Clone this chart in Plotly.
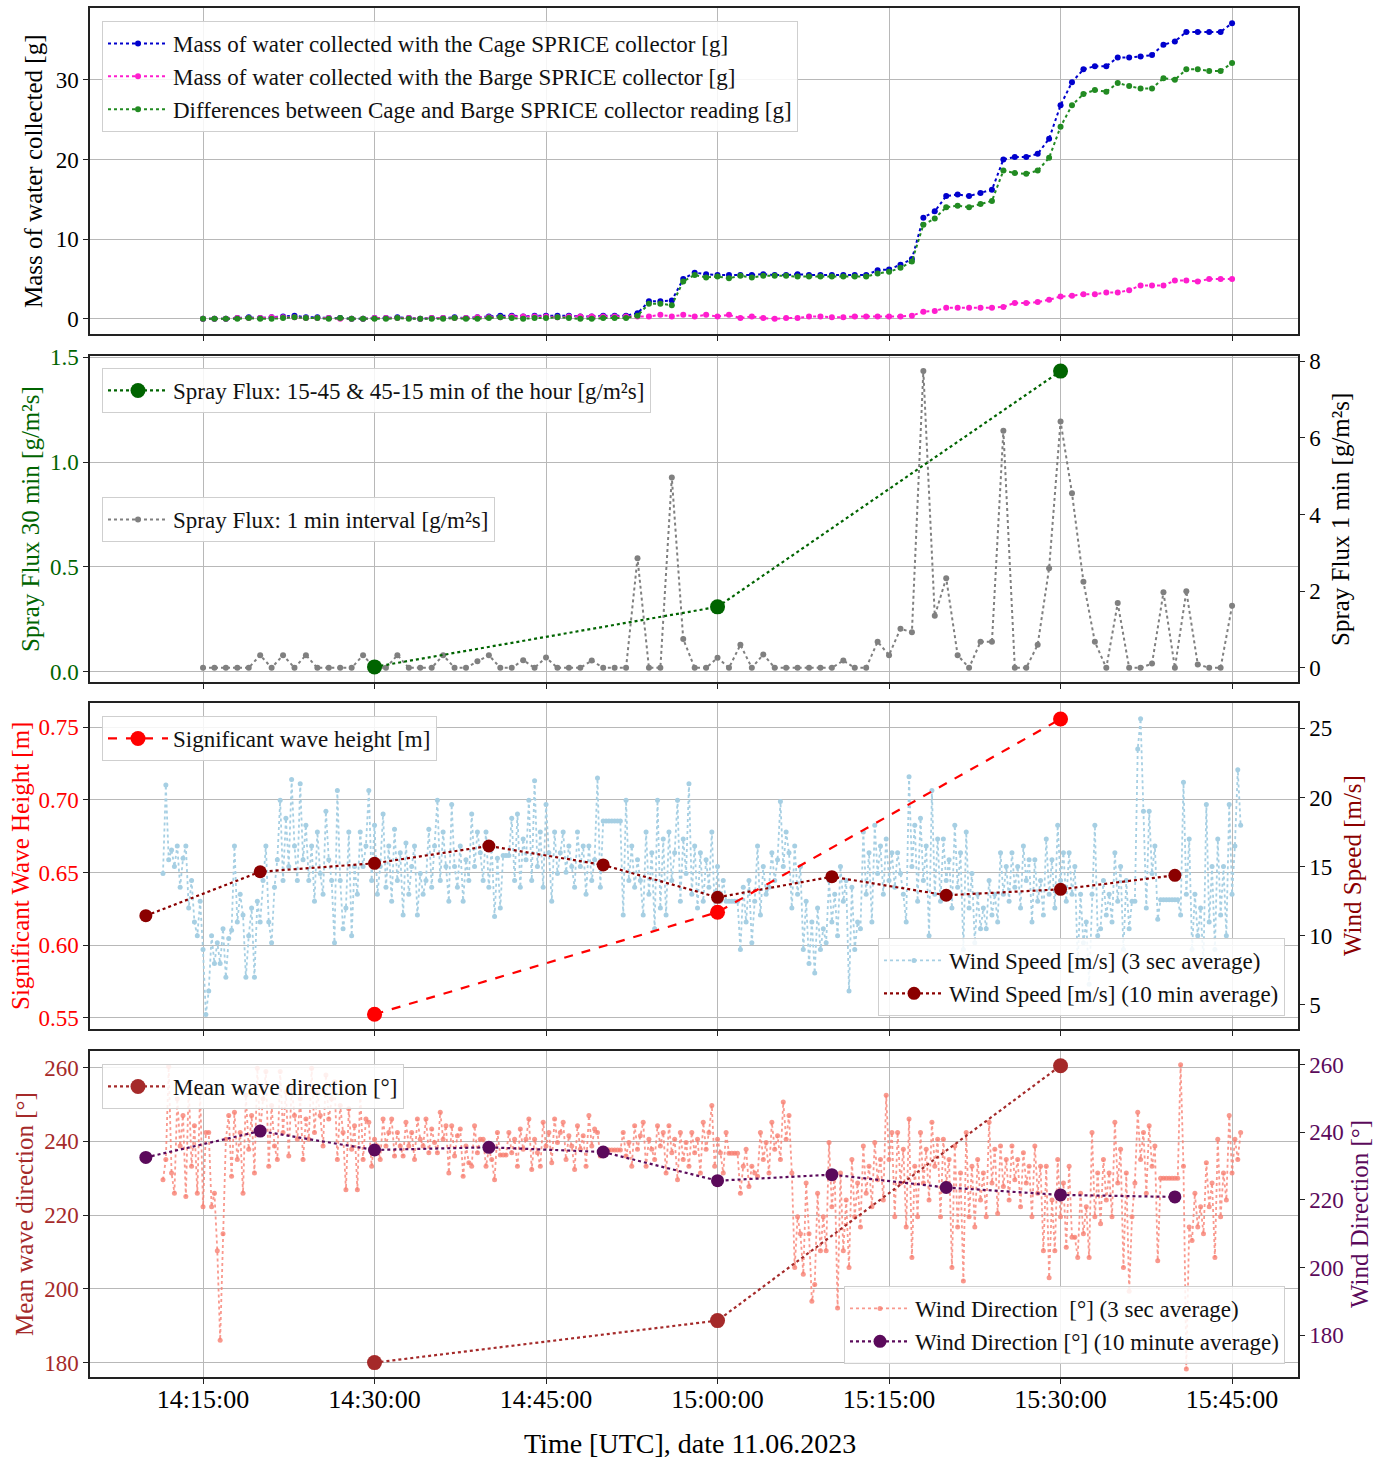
import pandas as pd
import plotly.graph_objects as go

FONT = "Liberation Serif"

# ---------------- Panel 1: mass of water, 1-min readings 14:15 - 15:45 ----------------
mass_start = "2023-06-11 14:15:00"
cage_mass = [0.0, 0.0, 0.0, 0.1, 0.2, 0.1, 0.2, 0.3, 0.4, 0.2, 0.2, 0.1, 0.1, 0.0, 0.0,
             0.1, 0.1, 0.2, 0.1, 0.0, 0.1, 0.1, 0.2, 0.1, 0.2, 0.3, 0.4, 0.4, 0.3, 0.4,
             0.4, 0.4, 0.4, 0.3, 0.3, 0.4, 0.4, 0.4,
             0.7, 2.2, 2.2, 2.3, 5.0, 5.8, 5.6,
             5.5, 5.5, 5.5, 5.5, 5.6, 5.5, 5.5, 5.6, 5.5, 5.5, 5.5, 5.5, 5.5, 5.5,
             6.1, 6.2, 6.8, 7.5, 12.7, 13.5, 15.4, 15.6, 15.4, 15.8, 16.2, 20.0, 20.3, 20.3,
             20.7, 22.6, 26.8, 29.7, 31.3, 31.7, 31.7, 32.8, 32.8, 32.9, 33.1, 34.4, 34.8,
             36.0, 36.0, 36.0, 36.0, 37.1]
barge_mass = [0.0, 0.0, 0.0, 0.1, 0.1, 0.1, 0.2, 0.2, 0.2, 0.1, 0.1, 0.1, 0.0, 0.0, 0.0,
              0.1, 0.1, 0.1, 0.1, 0.0, 0.1, 0.1, 0.1, 0.1, 0.2, 0.2, 0.2, 0.3, 0.3, 0.3,
              0.3, 0.2, 0.3, 0.3, 0.3, 0.3, 0.3, 0.3,
              0.3, 0.3, 0.5, 0.3, 0.5, 0.3, 0.5,
              0.3, 0.5, 0.1, 0.3, 0.1, 0.0, 0.1, 0.1, 0.3, 0.3, 0.2, 0.2, 0.3, 0.3,
              0.3, 0.3, 0.3, 0.4, 0.9, 1.0, 1.4, 1.4, 1.4, 1.4, 1.4, 1.5, 2.0, 2.0,
              2.1, 2.4, 2.8, 2.9, 3.1, 3.1, 3.3, 3.3, 3.6, 4.2, 4.2, 4.2, 4.8,
              4.8, 4.7, 5.0, 5.0, 5.0]
diff_mass = [0.0, 0.0, 0.0, 0.0, 0.1, 0.0, 0.0, 0.1, 0.2, 0.1, 0.1, 0.0, 0.1, 0.0, 0.0,
             0.0, 0.0, 0.1, 0.0, 0.0, 0.0, 0.0, 0.1, 0.0, 0.0, 0.1, 0.2, 0.1, 0.0, 0.1,
             0.1, 0.2, 0.1, 0.0, 0.0, 0.1, 0.1, 0.1,
             0.4, 1.9, 1.9, 1.7, 4.7, 5.5, 5.2,
             5.3, 5.1, 5.4, 5.2, 5.4, 5.4, 5.4, 5.3, 5.3, 5.3, 5.3, 5.3, 5.3, 5.3,
             5.7, 5.9, 6.4, 7.2, 11.8, 12.6, 14.0, 14.2, 14.0, 14.4, 14.8, 18.6, 18.3, 18.2,
             18.6, 20.2, 24.1, 26.8, 28.2, 28.7, 28.5, 29.6, 29.2, 28.9, 28.9, 30.2, 30.0,
             31.3, 31.3, 31.1, 31.1, 32.1]

# ---------------- Panel 2: spray flux ----------------
half_hour_times = ["2023-06-11 14:30:00", "2023-06-11 15:00:00", "2023-06-11 15:30:00"]
spray_30min = [0.024, 0.31, 1.433]
spray_1min = [0, 0, 0, 0, 0, 0.33, 0, 0.33, 0, 0.33, 0, 0, 0, 0, 0.33,
              0, 0, 0.33, 0, 0, 0, 0.33, 0, 0, 0.17, 0.33, 0, 0, 0.2, 0,
              0.27, 0, 0, 0, 0.19, 0, 0, 0, 2.86, 0, 0, 4.97, 0.75, 0, 0,
              0.26, 0, 0.6, 0, 0.35, 0, 0, 0, 0, 0, 0, 0.19, 0, 0, 0.68,
              0.33, 1.02, 0.93, 7.75, 1.36, 2.34, 0.33, 0, 0.68, 0.68, 6.19, 0, 0, 0.6, 2.6,
              6.43, 4.56, 2.25, 0.68, 0, 1.69, 0, 0, 0.11, 1.97, 0, 2.0, 0.09, 0, 0,
              1.62]

# ---------------- Panel 3: wave height & wind speed ----------------
sig_wave_height = [0.5525, 0.6227, 0.7555]
ten_min_start = "2023-06-11 14:10:00"
wind_speed_10min = [11.45, 14.63, 15.24, 16.49, 15.12, 12.78, 14.27, 12.93, 13.36, 14.37]
three_sec_start = "2023-06-11 14:11:30"
wind_speed_3sec = [
    14.5, 20.9, 15.5, 16.2, 15.0, 16.5, 13.5, 15.6, 16.5, 12.0, 14.0, 11.0,
    10.0, 12.5, 9.0, 4.3, 6.0, 10.0, 8.0, 9.5, 8.0, 10.5, 7.0, 9.8,
    10.4, 16.5, 11.0, 13.0, 11.5, 7.0, 10.0, 12.0, 7.0, 12.5, 11.0, 14.0,
    16.5, 11.0, 9.5, 13.5, 15.5, 19.8, 14.0, 18.5, 15.0, 21.3, 16.5, 14.0,
    21.0, 15.5, 18.0, 14.0, 16.5, 12.5, 17.5, 14.5, 13.0, 19.0, 15.5, 14.0,
    9.5, 20.5, 14.0, 10.5, 12.0, 17.5, 10.0, 15.0, 13.0, 17.5, 15.0, 16.5,
    20.5, 14.0, 18.0, 13.0, 15.0, 18.8, 13.5, 16.5, 12.5, 17.7, 14.0, 16.0,
    11.5, 16.7, 13.0, 15.0, 16.5, 11.5, 14.5, 13.0, 14.0, 17.7, 13.5, 16.5,
    19.8, 14.0, 17.5, 15.0, 12.5, 19.5, 15.0, 13.5, 16.5, 12.5, 15.5, 14.0,
    18.8, 15.0, 17.5, 16.0, 14.0, 17.5, 13.5, 16.5, 11.4, 15.6, 12.0, 15.8,
    15.8, 15.8, 18.5, 14.0, 18.8, 13.5, 17.0, 15.5, 19.8, 14.0, 21.2, 15.0,
    17.5, 13.5, 19.5, 16.0, 12.5, 17.5, 14.5, 16.0, 17.5, 14.6, 16.5, 15.0,
    13.5, 17.5, 15.0, 16.5, 13.0, 16.5, 14.0, 15.5, 21.4, 13.5, 18.3, 18.3,
    18.3, 18.3, 18.3, 18.3, 18.3, 11.5, 19.8, 14.0, 16.5, 13.5, 15.5, 14.0,
    11.5, 17.5, 13.0, 16.0, 10.5, 19.8, 12.0, 17.0, 11.5, 17.5, 14.0, 16.0,
    19.8, 12.5, 17.0, 14.5, 21.0, 13.0, 16.5, 12.0, 16.0, 12.5, 15.5, 13.5,
    17.5, 12.0, 15.0, 12.5, 14.0, 12.5, 12.5, 12.5, 12.5, 12.5, 9.0, 13.5,
    11.0, 14.0, 9.5, 12.5, 16.5, 11.5, 15.0, 13.0, 13.5, 16.0, 14.0, 15.5,
    19.7, 15.0, 17.5, 16.0, 12.0, 16.5, 13.0, 15.0, 9.0, 12.5, 8.0, 11.0,
    7.3, 12.0, 9.0, 10.5, 9.5, 14.0, 11.0, 13.0, 10.0, 15.0, 12.5, 14.0,
    6.0, 13.5, 9.0, 11.0, 10.5, 17.5, 13.0, 16.0, 11.0, 18.0, 14.5, 16.5,
    13.0, 17.0, 14.0, 16.0, 13.5, 16.0, 14.5, 13.0, 11.0, 21.5, 15.0, 18.0,
    12.5, 18.5, 14.0, 16.5, 10.0, 20.5, 13.0, 17.0, 12.5, 17.0, 14.0, 15.5,
    12.0, 18.0, 13.5, 16.0, 9.0, 17.5, 12.0, 14.5, 9.5, 13.0, 10.5, 12.0,
    10.5, 14.0, 11.5, 13.0, 11.0, 16.0, 13.0, 15.0, 12.5, 16.0, 13.5, 15.0,
    12.0, 16.5, 14.0, 15.5, 11.0, 15.5, 12.5, 14.0, 11.5, 17.0, 13.0, 15.5,
    12.0, 18.0, 14.0, 16.0, 12.5, 16.0, 13.0, 15.0, 8.0, 13.0, 9.5, 11.0,
    6.5, 13.0, 18.0, 10.0, 10.5, 14.0, 11.5, 13.0, 11.0, 16.0, 12.5, 15.0,
    9.0, 14.0, 10.5, 12.5, 12.5, 23.5, 25.7, 19.0, 12.0, 19.0, 14.5, 16.5,
    11.2, 12.6, 12.6, 12.6, 12.6, 12.6, 12.6, 12.6, 11.5, 21.1, 13.0, 17.0,
    9.0, 13.0, 10.0, 12.0, 8.0, 19.5, 11.0, 15.0, 9.0, 17.0, 11.5, 15.0,
    10.0, 19.5, 13.0, 16.5, 22.0, 18.0]

# ---------------- Panel 4: wave & wind direction ----------------
mean_wave_dir = [180.0, 191.4, 260.5]
wind_dir_10min = [232.6, 240.4, 234.8, 235.6, 234.2, 225.7, 227.5, 223.7, 221.5, 220.9]
wind_dir_3sec = [
    226, 232, 259.5, 228, 222, 250, 236, 245, 221, 254, 230, 242,
    222, 252, 218, 240, 240, 218, 222, 205, 178.5, 210, 238, 245,
    227, 246, 232, 240, 222, 251, 235, 245, 228, 259, 240, 250,
    258, 230, 248, 236, 232, 258, 240, 252, 233, 253, 245, 238,
    250, 232, 244, 238, 259, 240, 252, 245, 236, 257, 244, 250,
    255, 232, 248, 240, 223, 247, 235, 242, 223, 252, 232, 244,
    243, 230, 238, 236, 232, 244, 236, 240, 244, 233, 240, 236,
    233, 243, 236, 240, 232, 244, 238, 236, 244, 234, 241, 237,
    234, 246, 238, 242, 228, 242, 233, 239, 241, 227, 236, 231,
    230, 242, 234, 238, 238, 230, 235, 232, 226, 240, 233.3, 233.3,
    233.3, 240, 234, 238, 230, 241, 235, 238, 244, 229, 238, 234,
    230, 243, 236, 240, 231, 244, 237, 240, 243, 232, 239, 236,
    229, 242, 235, 239, 230, 245, 236, 241, 240, 233, 234.8, 234.8,
    234.8, 234.8, 234.8, 234.8, 234.8, 240, 233, 237, 230, 242, 235, 239,
    243, 230, 238, 235, 232, 242, 236, 240, 228, 242, 234, 238,
    226, 240, 232, 237, 230, 240, 234, 238, 228, 243, 235, 240,
    248, 230, 238, 234, 228, 240, 233.8, 233.8, 233.8, 233.8, 222, 230,
    235, 224, 230, 228, 227, 240, 232, 237, 228, 243, 235, 239,
    232, 249, 238, 245, 228, 200, 215, 210, 198, 225, 210, 190,
    195, 222, 205, 215, 205, 237, 218, 228, 188, 228, 205, 220,
    200, 232, 215, 225, 212, 236, 222, 230, 218, 237, 226, 232,
    220, 251, 232, 240, 215, 240, 225, 235, 212, 244, 203, 230,
    215, 240, 225, 235, 220, 243, 230, 238, 215, 238, 225, 232,
    200, 236, 212, 228, 196, 240, 215, 230, 212, 232, 220, 228,
    215, 243, 225, 235, 216, 236, 224, 232, 220, 236, 226, 232,
    218, 234, 225, 230, 215, 236, 222, 230, 205, 230, 197, 220,
    205, 232, 215, 225, 206, 230, 209, 209, 203, 222, 210, 218,
    203, 240, 215, 228, 213, 232, 220, 228, 215, 243, 225, 235,
    200, 228, 193, 215, 225, 246, 232, 240, 222, 242, 230, 236,
    202, 226.4, 226.4, 226.4, 226.4, 226.4, 226.4, 226.4, 260, 230, 170, 212,
    208, 222, 212, 218, 210, 231, 218, 225, 203, 238, 215, 228,
    220, 245, 228, 238, 232, 240]

x_ticks = ["2023-06-11 14:15:00", "2023-06-11 14:30:00", "2023-06-11 14:45:00",
           "2023-06-11 15:00:00", "2023-06-11 15:15:00", "2023-06-11 15:30:00",
           "2023-06-11 15:45:00"]
x_range = ["2023-06-11 14:05:07", "2023-06-11 15:50:46"]

t_mass = pd.date_range(mass_start, periods=len(cage_mass), freq="1min")
t_spray = pd.date_range(mass_start, periods=len(spray_1min), freq="1min")
t_10 = pd.date_range(ten_min_start, periods=len(wind_speed_10min), freq="10min")
t_3s_ws = pd.date_range(three_sec_start, periods=len(wind_speed_3sec), freq="15s")
t_3s_wd = pd.date_range(three_sec_start, periods=len(wind_dir_3sec), freq="15s")

BLUE = "#0000CD"
MAGENTA = "#FF1DCE"
FGREEN = "#228B22"
DGREEN = "#006400"
GREY = "#808080"
RED = "#FF0000"
LBLUE = "#A6CFE3"
DRED = "#8B0000"
BROWN = "#A52A2A"
SALMON = "rgba(248,128,114,0.8)"
PURPLE = "#5B0A5B"

fig = go.Figure()

# Panel 1
fig.add_trace(go.Scatter(x=t_mass, y=cage_mass, mode="lines+markers", xaxis="x", yaxis="y",
                         line=dict(color=BLUE, dash="dot", width=2), marker=dict(size=6, color=BLUE),
                         name="Mass of water collected with the Cage SPRICE collector [g]", legend="legend"))
fig.add_trace(go.Scatter(x=t_mass, y=barge_mass, mode="lines+markers", xaxis="x", yaxis="y",
                         line=dict(color=MAGENTA, dash="dot", width=2), marker=dict(size=6, color=MAGENTA),
                         name="Mass of water collected with the Barge SPRICE collector [g]", legend="legend"))
fig.add_trace(go.Scatter(x=t_mass, y=diff_mass, mode="lines+markers", xaxis="x", yaxis="y",
                         line=dict(color=FGREEN, dash="dot", width=2), marker=dict(size=6, color=FGREEN),
                         name="Differences between Cage and Barge SPRICE collector reading [g]", legend="legend"))

# Panel 2
fig.add_trace(go.Scatter(x=t_spray, y=spray_1min, mode="lines+markers", xaxis="x2", yaxis="y2",
                         line=dict(color=GREY, dash="dot", width=2), marker=dict(size=6, color=GREY),
                         name="Spray Flux: 1 min interval [g/m²s]", legend="legend3"))
fig.add_trace(go.Scatter(x=half_hour_times, y=spray_30min, mode="lines+markers", xaxis="x2", yaxis="y3",
                         line=dict(color=DGREEN, dash="dot", width=2.2), marker=dict(size=15, color=DGREEN),
                         name="Spray Flux: 15-45 & 45-15 min of the hour [g/m²s]", legend="legend2"))

# Panel 3
fig.add_trace(go.Scatter(x=t_3s_ws, y=wind_speed_3sec, mode="lines+markers", xaxis="x3", yaxis="y4",
                         line=dict(color=LBLUE, dash="dot", width=1.8), marker=dict(size=5, color=LBLUE),
                         name="Wind Speed [m/s] (3 sec average)", legend="legend5"))
fig.add_trace(go.Scatter(x=t_10, y=wind_speed_10min, mode="lines+markers", xaxis="x3", yaxis="y4",
                         line=dict(color=DRED, dash="dot", width=2.2), marker=dict(size=13, color=DRED),
                         name="Wind Speed [m/s] (10 min average)", legend="legend5"))
fig.add_trace(go.Scatter(x=half_hour_times, y=sig_wave_height, mode="lines+markers", xaxis="x3", yaxis="y5",
                         line=dict(color=RED, dash="dash", width=2.2), marker=dict(size=15, color=RED),
                         name="Significant wave height [m]", legend="legend4"))

# Panel 4
fig.add_trace(go.Scatter(x=t_3s_wd, y=wind_dir_3sec, mode="lines+markers", xaxis="x4", yaxis="y6",
                         line=dict(color=SALMON, dash="dot", width=1.8), marker=dict(size=5, color=SALMON),
                         name="Wind Direction  [°] (3 sec average)", legend="legend7"))
fig.add_trace(go.Scatter(x=t_10, y=wind_dir_10min, mode="lines+markers", xaxis="x4", yaxis="y6",
                         line=dict(color=PURPLE, dash="dot", width=2.2), marker=dict(size=13, color=PURPLE),
                         name="Wind Direction [°] (10 minute average)", legend="legend7"))
fig.add_trace(go.Scatter(x=half_hour_times, y=mean_wave_dir, mode="lines+markers", xaxis="x4", yaxis="y7",
                         line=dict(color=BROWN, dash="dot", width=2.2), marker=dict(size=15, color=BROWN),
                         name="Mean wave direction [°]", legend="legend6"))

W, H = 1386, 1460
ML, MR, MT, MB = 90, 88, 8, 83
PW, PH = W - ML - MR, H - MT - MB


def py(pix):
    return (H - MB - pix) / PH


def px(pix):
    return (pix - ML) / PW


domains = [(py(334), py(8)), (py(682), py(356)), (py(1029), py(703)), (py(1377), py(1051))]

GRID = "#B8B8B8"
LINE = "#222222"
tickfont = dict(family=FONT, size=23, color="black")
xtickfont = dict(family=FONT, size=26, color="black")

xcommon = dict(type="date", range=x_range, tickvals=x_ticks, tickformat="%H:%M:%S",
               showgrid=True, gridcolor=GRID, gridwidth=1, zeroline=False, automargin=False,
               showline=True, linecolor=LINE, linewidth=1.5, mirror=True,
               ticks="outside", ticklen=5, tickcolor=LINE, tickfont=xtickfont)

layout = dict(
    width=W, height=H, autosize=False,
    margin=dict(l=ML, r=MR, t=MT, b=MB, autoexpand=False),
    paper_bgcolor="white", plot_bgcolor="white",
    font=dict(family=FONT, size=22, color="black"),
    showlegend=True,
)

layout["xaxis"] = dict(xcommon, anchor="y", showticklabels=False)
layout["xaxis2"] = dict(xcommon, anchor="y2", showticklabels=False)
layout["xaxis3"] = dict(xcommon, anchor="y4", showticklabels=False)
layout["xaxis4"] = dict(xcommon, anchor="y6", showticklabels=True, ticklabelstandoff=-7)

ycommon = dict(zeroline=False, showline=True, linecolor=LINE, linewidth=1.5, automargin=False,
               ticks="outside", ticklen=5, tickcolor=LINE)

layout["yaxis"] = dict(ycommon, domain=domains[0], anchor="x", side="left", mirror=True,
                       range=[-1.9, 39], tickvals=[0, 10, 20, 30], showgrid=True, gridcolor=GRID,
                       tickfont=tickfont)
# panel 2
layout["yaxis2"] = dict(ycommon, domain=domains[1], anchor="x2", side="right", showgrid=False,
                        range=[-0.37, 8.14], tickvals=[0, 2, 4, 6, 8], tickfont=tickfont)
layout["yaxis3"] = dict(ycommon, overlaying="y2", anchor="x2", side="left", showgrid=True, gridcolor=GRID,
                        range=[-0.048, 1.505], tickvals=[0, 0.5, 1.0, 1.5], tickformat=".1f",
                        tickfont=dict(tickfont, color=DGREEN))
# panel 3
layout["yaxis4"] = dict(ycommon, domain=domains[2], anchor="x3", side="right", showgrid=False,
                        range=[3.26, 26.83], tickvals=[5, 10, 15, 20, 25], tickfont=tickfont)
layout["yaxis5"] = dict(ycommon, overlaying="y4", anchor="x3", side="left", showgrid=True, gridcolor=GRID,
                        range=[0.5424, 0.7665], tickvals=[0.55, 0.60, 0.65, 0.70, 0.75], tickformat=".2f",
                        tickfont=dict(tickfont, color=RED))
# panel 4
layout["yaxis6"] = dict(ycommon, domain=domains[3], anchor="x4", side="right", showgrid=False,
                        range=[167.6, 264.1], tickvals=[180, 200, 220, 240, 260],
                        tickfont=dict(tickfont, color=PURPLE))
layout["yaxis7"] = dict(ycommon, overlaying="y6", anchor="x4", side="left", showgrid=True, gridcolor=GRID,
                        range=[176.1, 264.5], tickvals=[180, 200, 220, 240, 260],
                        tickfont=dict(tickfont, color=BROWN))

legfont = dict(family=FONT, size=23, color="#111111")
legbase = dict(bgcolor="rgba(255,255,255,0.85)", bordercolor="#CFCFCF", borderwidth=1,
               font=legfont, itemwidth=60, tracegroupgap=0)
layout["legend"] = dict(legbase, x=px(102), y=py(21), xanchor="left", yanchor="top")
layout["legend2"] = dict(legbase, x=px(102), y=py(368), xanchor="left", yanchor="top")
layout["legend3"] = dict(legbase, x=px(102), y=py(497), xanchor="left", yanchor="top")
layout["legend4"] = dict(legbase, x=px(102), y=py(716), xanchor="left", yanchor="top")
layout["legend5"] = dict(legbase, x=px(1285), y=py(1016), xanchor="right", yanchor="bottom")
layout["legend6"] = dict(legbase, x=px(102), y=py(1064), xanchor="left", yanchor="top")
layout["legend7"] = dict(legbase, x=px(1285), y=py(1364), xanchor="right", yanchor="bottom")

fig.update_layout(**layout)

# axis titles as annotations
titles = [
    ("Mass of water collected [g]", 34, (8 + 334) / 2, "black"),
    ("Spray Flux 30 min [g/m²s]", 30, (356 + 682) / 2, DGREEN),
    ("Spray Flux 1 min [g/m²s]", 1340, (356 + 682) / 2, "black"),
    ("Significant Wave Height [m]", 20, (703 + 1029) / 2, RED),
    ("Wind Speed [m/s]", 1352, (703 + 1029) / 2, DRED),
    ("Mean wave direction [°]", 24, (1051 + 1377) / 2, BROWN),
    ("Wind Direction [°]", 1359, (1051 + 1377) / 2, PURPLE),
]
for text, xp, yp, col in titles:
    fig.add_annotation(text=text, xref="paper", yref="paper", x=px(xp), y=py(yp),
                       xanchor="center", yanchor="middle", textangle=-90, showarrow=False,
                       font=dict(family=FONT, size=25, color=col))

fig.add_annotation(text="Time [UTC], date 11.06.2023", xref="paper", yref="paper",
                   x=px(690), y=py(1443), xanchor="center", yanchor="middle", showarrow=False,
                   font=dict(family=FONT, size=28, color="black"))

fig.write_html("out.html")
